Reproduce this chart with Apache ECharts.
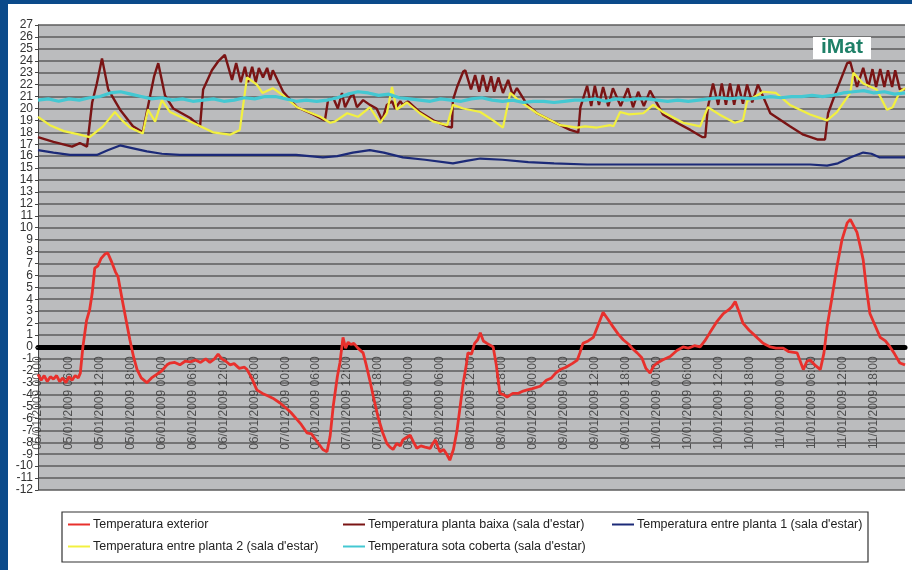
<!DOCTYPE html>
<html>
<head>
<meta charset="utf-8">
<script src="https://cdn.jsdelivr.net/npm/echarts@6/dist/echarts.min.js"></script>
<style>
html,body{margin:0;padding:0;background:#fff;}
#chart{width:912px;height:570px;}
</style>
</head>
<body>
<div id="chart"></div>
<script>
var seriesNames = [
  "Temperatura exterior",
  "Temperatura planta baixa (sala d'estar)",
  "Temperatura entre planta 1 (sala d'estar)",
  "Temperatura entre planta 2 (sala d'estar)",
  "Temperatura sota coberta (sala d'estar)"
];

var tickLabels = [
  "05/01/2009 00:00","05/01/2009 06:00","05/01/2009 12:00","05/01/2009 18:00",
  "06/01/2009 00:00","06/01/2009 06:00","06/01/2009 12:00","06/01/2009 18:00",
  "07/01/2009 00:00","07/01/2009 06:00","07/01/2009 12:00","07/01/2009 18:00",
  "08/01/2009 00:00","08/01/2009 06:00","08/01/2009 12:00","08/01/2009 18:00",
  "09/01/2009 00:00","09/01/2009 06:00","09/01/2009 12:00","09/01/2009 18:00",
  "10/01/2009 00:00","10/01/2009 06:00","10/01/2009 12:00","10/01/2009 18:00",
  "11/01/2009 00:00","11/01/2009 06:00","11/01/2009 12:00","11/01/2009 18:00"
];
// hour position (since 05/01/2009 00:00) of each tick label
var tickHours = [0,6,12,18,24,30,36,42,48,54,60,66,72,78,84,90,96,102,108,114,120,126,132,138,144,150,156,162];

// [hours since 05/01/2009 00:00, temperature °C]
var exteriorData = [[0,-2.3],[0.6,-2.8],[1.2,-2.4],[1.8,-2.9],[2.4,-2.5],[3,-2.7],[3.6,-2.4],[4.2,-2.9],[4.8,-2.6],[5.4,-3.0],[6,-2.5],[6.6,-2.8],[7.2,-2.4],[7.8,-2.6],[8.2,-2.2],[8.7,0],[9.4,2.2],[10,3.1],[10.5,4.5],[11,6.6],[11.6,6.8],[12.2,7.4],[13,7.8],[13.5,7.9],[14.2,7.2],[15,6.3],[15.5,5.9],[16.3,4.0],[17,2.4],[17.8,0.6],[18.5,-0.8],[19.2,-1.9],[20,-2.6],[21.1,-3.0],[22,-2.6],[23,-2.3],[24,-2.0],[25,-1.5],[25.6,-1.35],[26.5,-1.3],[27.5,-1.5],[28.5,-1.2],[29.5,-1.25],[30.5,-1.1],[31.5,-1.3],[32.5,-1.0],[33.3,-1.3],[34.2,-1.0],[34.9,-0.6],[35.6,-1.0],[36.4,-1.2],[37.2,-1.5],[38,-1.4],[39,-1.8],[40,-1.7],[40.5,-1.9],[41.4,-2.6],[42.4,-3.6],[43.5,-3.9],[44.5,-4.1],[45.5,-4.3],[46.9,-4.7],[48,-5.1],[49,-5.5],[50.2,-6.1],[51,-6.5],[52.1,-7.2],[53,-7.3],[54,-7.9],[55.2,-8.6],[56,-8.8],[56.6,-7.5],[57.2,-5],[58,-2.5],[58.5,-1.35],[59.1,0.8],[59.6,-0.1],[60.1,0.4],[60.6,0.2],[61.2,0.3],[62,-0.1],[63,-0.5],[63.6,-1.5],[64.3,-2.8],[65,-4.2],[65.9,-5.9],[66.8,-7.2],[67.6,-8.1],[68.2,-8.4],[68.8,-8.6],[69.5,-8.1],[70.2,-8.3],[70.7,-7.8],[71.4,-7.6],[72.1,-7.4],[72.8,-8.0],[73.4,-8.5],[74.2,-8.3],[75,-8.4],[76,-8.5],[76.5,-8.1],[77,-7.8],[77.5,-8.4],[77.9,-8.8],[78.6,-8.6],[79.2,-9.0],[79.8,-9.5],[80.5,-8.6],[81.2,-7.0],[81.8,-5.0],[82.4,-3.0],[83,-1.5],[83.3,-0.5],[84,-0.6],[84.6,0.3],[85.2,0.6],[85.7,1.2],[86.3,0.5],[87,0.3],[88.2,0],[88.8,-1.5],[89.5,-3.9],[90.2,-4.0],[90.9,-4.2],[92,-3.9],[93,-3.9],[94,-3.7],[94.8,-3.6],[95.8,-3.5],[97.3,-3.3],[98.5,-2.8],[99.5,-2.6],[100.3,-2.2],[101.2,-1.9],[102.3,-1.7],[103.5,-1.4],[104.5,-1.1],[105,-0.5],[105.6,0.3],[106.6,0.5],[107.6,0.8],[108.5,1.8],[109.5,2.9],[110.3,2.4],[111.4,1.7],[112.4,1.1],[113.4,0.6],[114.5,0.2],[115.3,-0.2],[116.1,-0.5],[117,-0.9],[117.8,-1.8],[118.6,-2.2],[119.3,-1.6],[120,-1.35],[121,-1.1],[122.5,-0.8],[123.8,-0.3],[125,0],[126,-0.1],[127.2,0.1],[128.3,0],[129.2,0.5],[130.2,1.2],[131.5,2.1],[132.8,2.8],[133.8,3.1],[134.5,3.4],[135.1,3.8],[135.8,3.0],[136.6,2.0],[137.8,1.4],[139.3,0.8],[140.5,0.3],[141.9,0],[143,-0.1],[144.4,-0.1],[145.5,-0.4],[147.1,-0.5],[147.7,-1.2],[148.3,-1.9],[149,-1.2],[149.6,-1.1],[150.5,-1.5],[151.6,-1.9],[152.3,-0.5],[152.9,1.7],[153.8,4.0],[154.8,6.7],[155.8,9.0],[156.8,10.4],[157.4,10.7],[158,10.2],[158.7,9.6],[159.3,8.5],[159.9,7.3],[160.5,5.0],[161.2,2.8],[162.2,1.8],[163.2,0.8],[164.2,0.5],[165.1,0],[166,-0.6],[167,-1.35],[168,-1.5]];

var plantaBaixaData = [[0,17.6],[3,17.2],[6.6,16.8],[8.1,17.1],[9.5,16.8],[10.5,20.5],[11.4,22.1],[12.4,24.2],[13.6,21.6],[15.9,19.9],[18.4,18.5],[20.3,18.0],[21.7,21.0],[22.5,22.7],[23.3,23.8],[24.6,21.1],[26.2,20.0],[29.5,19.2],[31.4,18.5],[32,21.6],[33.7,23.2],[35,24.0],[36.2,24.5],[37.6,22.4],[38.4,23.8],[39.3,22.2],[40.1,23.5],[40.7,22.2],[41.5,23.5],[42.2,22.2],[42.8,23.4],[43.6,22.6],[44.4,23.4],[45,22.4],[45.5,23.2],[47.5,21.4],[50.2,20.1],[53.3,19.5],[55.6,19.0],[56.2,20.7],[57.2,20.9],[58.1,20.0],[58.9,21.3],[59.5,20.1],[60.4,20.9],[61,21.3],[61.8,20.1],[63,20.7],[64.3,20.3],[65.6,20.0],[66.7,19.0],[67.6,20.3],[68.6,20.6],[69.2,20.0],[70.2,20.6],[70.7,20.3],[71.7,20.6],[74,19.7],[76.6,19.0],[79.3,18.5],[80.2,18.4],[80.4,20.7],[81.2,21.8],[82.4,23.1],[82.8,23.2],[83.9,21.6],[84.7,22.8],[85.5,21.4],[86.2,22.8],[87,21.4],[87.8,22.7],[88.4,21.4],[89.2,22.6],[90.1,21.3],[91.1,22.4],[92,21.1],[92.8,21.7],[94.8,20.3],[96.7,19.6],[99.8,18.9],[103.1,18.2],[104.7,18.0],[105.1,20.1],[106.4,21.9],[107.2,20.2],[107.9,21.9],[108.7,20.3],[109.5,21.8],[110.5,20.2],[111.4,21.7],[112.9,20.2],[114.3,21.7],[115.3,20.1],[116.3,21.4],[117.4,20.2],[118.6,21.5],[121.1,19.5],[123.8,18.8],[126.4,18.2],[128.7,17.6],[129.3,17.6],[129.8,20.1],[130.8,22.1],[131.8,20.3],[132.5,22.1],[133.3,20.3],[134.1,22.1],[134.9,20.3],[135.7,22.0],[136.6,20.4],[137.4,22.0],[138.4,20.5],[139.5,22.0],[141.9,19.6],[145.7,18.5],[148.3,17.8],[151,17.4],[152.5,17.4],[153.1,19.6],[154.8,21.6],[156.8,23.8],[157.4,23.9],[158.7,21.8],[159.9,23.4],[160.9,21.8],[161.7,23.3],[162.4,21.8],[163.2,23.3],[164,21.8],[164.7,23.2],[165.5,21.8],[166.1,23.2],[167,21.6],[168,21.6]];

var entrePlanta1Data = [[0,16.5],[3,16.3],[6.2,16.1],[11.4,16.1],[13.5,16.5],[15.9,16.9],[18,16.7],[21.1,16.4],[24,16.2],[27.5,16.1],[36,16.1],[45,16.1],[50,16.1],[55.2,15.9],[58,16.0],[61,16.3],[64.3,16.5],[67,16.3],[70.7,15.9],[75,15.7],[80.4,15.4],[83,15.6],[85.7,15.8],[90,15.7],[95,15.5],[100,15.4],[106.4,15.3],[115,15.3],[125,15.3],[135,15.3],[145,15.3],[149.6,15.3],[152.9,15.2],[155,15.4],[157.5,15.9],[159.9,16.3],[161.5,16.2],[163,15.9],[168,15.9]];

var entrePlanta2Data = [[0,19.3],[2.3,18.6],[5,18.1],[8.1,17.8],[10,17.6],[12.6,18.5],[14.9,19.7],[16.3,19.0],[17.8,18.4],[20.3,17.9],[21.3,19.9],[22.7,18.9],[24,20.7],[25.6,19.7],[29.5,18.9],[33.9,18.0],[37.2,17.8],[39.1,18.2],[40.5,22.6],[42.4,22.0],[43.5,21.3],[45.5,21.7],[47.5,21.1],[50.2,20.1],[54.7,19.3],[56.6,18.8],[57.5,18.9],[59.9,19.6],[62,19.3],[64.3,20.1],[66.3,18.8],[67.6,19.6],[68.6,21.8],[69.5,19.9],[71.5,20.5],[74,19.6],[76.6,18.9],[79.3,18.6],[80.4,20.3],[82.4,20.0],[85.7,19.7],[88.2,19.0],[90.1,18.4],[91.5,21.3],[93.4,20.6],[96.7,19.6],[101.2,18.6],[104.5,18.4],[106,18.5],[108.3,18.4],[110.9,18.6],[111.5,18.5],[112.8,19.7],[114.5,19.5],[117.3,19.6],[119.2,20.3],[121.1,19.7],[125,18.8],[128.3,18.5],[129.8,20.1],[132,19.5],[135,18.8],[136.6,19.0],[137.4,20.6],[140.5,21.4],[143,21.3],[145.7,20.3],[149.6,19.5],[152.9,19.0],[154.8,19.7],[157.4,21.3],[158,23.0],[159.9,22.1],[162.5,21.6],[164.5,19.9],[165.6,20.1],[167,21.4],[168,21.7]];

var sotaCobertaData = [[0,20.7],[2,20.8],[4,20.6],[6,20.8],[8,20.7],[10,20.9],[12,21.0],[14,21.3],[16,21.4],[18,21.2],[20,21.0],[22,20.8],[24,20.9],[26,20.7],[28,20.8],[30,20.6],[32,20.7],[34,20.8],[36,20.6],[38,20.7],[40,20.9],[42,20.8],[44,21.0],[46,21.0],[48,20.8],[50,20.6],[52,20.7],[54,20.6],[56,20.7],[58,20.9],[60,21.2],[62,21.4],[64,21.3],[66,21.1],[68,21.2],[70,20.9],[72,20.8],[74,20.7],[76,20.6],[78,20.8],[80,20.7],[82,20.6],[84,20.8],[86,20.9],[88,20.7],[90,20.6],[92,20.7],[94,20.5],[96,20.6],[98,20.6],[100,20.5],[102,20.6],[104,20.7],[106,20.7],[108,20.8],[110,20.6],[112,20.8],[114,20.7],[116,20.8],[118,20.8],[120,20.7],[122,20.6],[124,20.7],[126,20.6],[128,20.7],[130,20.8],[132,20.9],[134,20.8],[136,20.9],[138,20.8],[140,20.9],[142,21.0],[144,20.9],[146,21.0],[148,21.0],[150,21.1],[152,21.0],[154,21.1],[156,21.3],[158,21.4],[160,21.5],[162,21.3],[164,21.4],[166,21.2],[168,21.3]];

var seriesData = [exteriorData, plantaBaixaData, entrePlanta1Data, entrePlanta2Data, sotaCobertaData];
var seriesColors = ['#e8302c', '#7a1414', '#1c2a78', '#f2f040', '#44c8d2'];
var seriesWidths = [2.8, 2.4, 2.2, 2.2, 3.2];

var chart = echarts.init(document.getElementById('chart'));
var FONT = 'Liberation Sans, Arial, sans-serif';

function legendCfg(names, left) {
  return {
    data: names, left: left, top: 518, orient: 'vertical', itemGap: 9, padding: 0,
    icon: 'rect', itemWidth: 22, itemHeight: 2,
    textStyle: { fontSize: 12.5, color: '#222', fontFamily: FONT, padding: [0, 0, 0, -2] },
    selectedMode: false
  };
}

var lineSeries = seriesNames.map(function (n, i) {
  return {
    name: n, type: 'line', data: seriesData[i], symbol: 'none', showSymbol: false,
    color: seriesColors[i],
    lineStyle: { color: seriesColors[i], width: seriesWidths[i] },
    z: 3
  };
});

// x tick labels hang from the y = 0 line
var labelSeries = {
  name: 'ticks', type: 'scatter', symbol: 'circle', symbolSize: 1, silent: true, z: 2,
  itemStyle: { color: 'rgba(0,0,0,0)' },
  data: tickHours.map(function (h, i) { return { value: [h, 0], name: tickLabels[i] }; }),
  label: {
    show: true, position: [0, 10], rotate: 90, align: 'right', verticalAlign: 'middle',
    fontSize: 12, color: '#333', fontFamily: FONT,
    formatter: function (p) { return p.name; }
  },
  labelLayout: { hideOverlap: false }
};

chart.setOption({
  backgroundColor: '#ffffff',
  animation: false,
  graphic: [
    { type: 'rect', shape: { x: 0, y: 0, width: 912, height: 4 }, style: { fill: '#0b4a8a' }, z: 100 },
    { type: 'rect', shape: { x: 0, y: 0, width: 8, height: 570 }, style: { fill: '#0b4a8a' }, z: 100 },
    { type: 'rect', shape: { x: 62, y: 512, width: 806, height: 50 }, style: { fill: '#ffffff', stroke: '#333', lineWidth: 1.2 }, z: -1 },
    { type: 'rect', shape: { x: 813, y: 37, width: 58, height: 22 }, style: { fill: '#ffffff' }, z: 50 },
    { type: 'text', x: 842, y: 47, style: { text: 'iMat', fill: '#1f8068', font: 'bold 21px ' + FONT, textAlign: 'center', textVerticalAlign: 'middle' }, z: 51 }
  ],
  legend: [
    legendCfg([seriesNames[0], seriesNames[3]], 68),
    legendCfg([seriesNames[1], seriesNames[4]], 343),
    legendCfg([seriesNames[2]], 612)
  ],
  grid: {
    left: 38, right: 7, top: 25, bottom: 80,
    containLabel: false, outerBoundsMode: 'none',
    show: true, backgroundColor: '#bbbcbe', borderWidth: 0
  },
  xAxis: {
    type: 'value', min: 0, max: 168, interval: 6,
    axisLine: { show: true, onZero: true, lineStyle: { color: '#000', width: 5 } },
    axisTick: { show: false },
    splitLine: { show: false },
    axisLabel: { show: false }
  },
  yAxis: {
    type: 'value', min: -12, max: 27, interval: 1,
    axisLine: { show: true, onZero: false, lineStyle: { color: '#444', width: 1 } },
    axisTick: { show: true, length: 3, lineStyle: { color: '#444' } },
    axisLabel: { fontSize: 12, color: '#333', fontFamily: FONT, margin: 5, showMinLabel: true, showMaxLabel: true, hideOverlap: false },
    splitLine: { show: true, lineStyle: { color: '#5c5c5c', width: 1.6 } }
  },
  series: [labelSeries].concat(lineSeries)
});
</script>
</body>
</html>
